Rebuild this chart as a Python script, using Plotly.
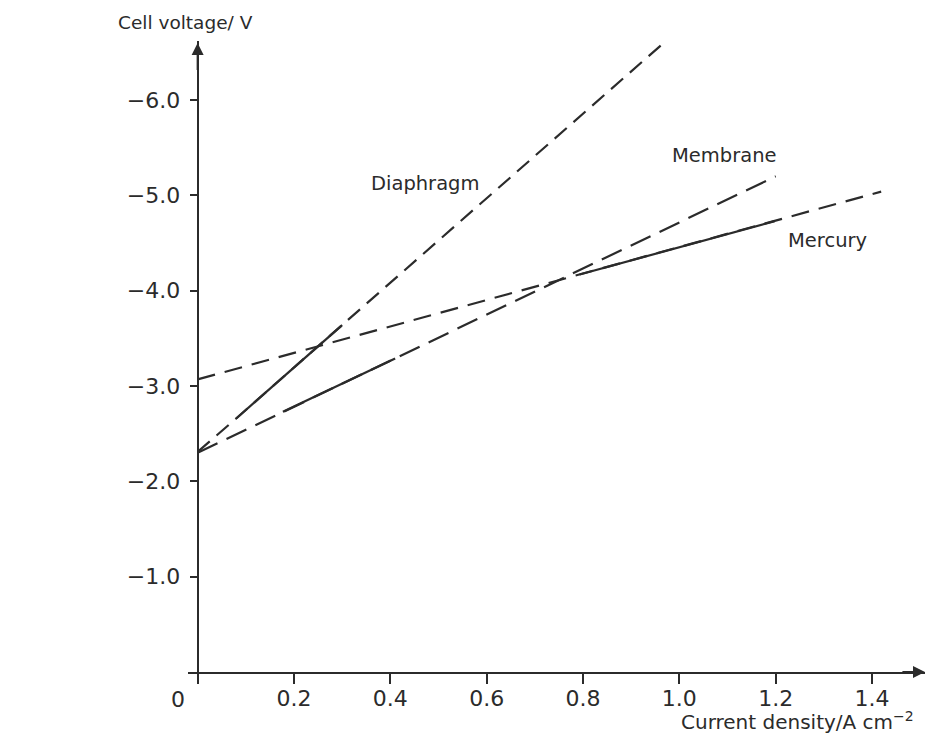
import plotly.graph_objects as go

# Current density (A cm^-2) at line ends / solid-segment breakpoints, and cell voltage (V)
diaphragm_x = [0.0, 0.08, 0.30, 0.972]
diaphragm_v = [-2.31, -2.66, -3.64, -6.62]
membrane_x = [0.0, 0.177, 0.41, 1.20]
membrane_v = [-2.30, -2.73, -3.29, -5.20]
mercury_x = [0.0, 0.793, 1.198, 1.419]
mercury_v = [-3.07, -4.17, -4.73, -5.04]

x_ticks = [0, 0.2, 0.4, 0.6, 0.8, 1.0, 1.2, 1.4]
x_ticktext = ["", "0.2", "0.4", "0.6", "0.8", "1.0", "1.2", "1.4"]
y_ticks = [-1.0, -2.0, -3.0, -4.0, -5.0, -6.0]

INK = "#2b2b2b"
FONT = "DejaVu Sans"

fig = go.Figure()

series = [
    ("Diaphragm", diaphragm_x, diaphragm_v, "16px,9px"),
    ("Membrane", membrane_x, membrane_v, "22px,10px"),
    ("Mercury", mercury_x, mercury_v, "18px,10px"),
]
for name, xs, vs, dash in series:
    fig.add_trace(go.Scatter(x=xs, y=vs, mode="lines", name=name + " (extrapolated)",
                             line=dict(color=INK, width=2.2, dash=dash),
                             showlegend=False, hoverinfo="skip"))
    fig.add_trace(go.Scatter(x=xs[1:3], y=vs[1:3], mode="lines", name=name,
                             line=dict(color=INK, width=2.2),
                             showlegend=False))

X0, X1 = -0.02, 1.51


def xpaper(v):
    return (v - X0) / (X1 - X0)


fig.update_layout(
    width=939, height=725,
    margin=dict(l=180, r=22, t=33, b=61),
    paper_bgcolor="white", plot_bgcolor="white",
    font=dict(family=FONT, color=INK),
    showlegend=False,
    xaxis=dict(range=[X0, X1], domain=[0, 1],
               showgrid=False, zeroline=False,
               showline=True, linecolor=INK, linewidth=2,
               tickmode="array", tickvals=x_ticks, ticktext=x_ticktext,
               ticks="outside", ticklen=10, tickwidth=2, tickcolor=INK,
               ticklabelstandoff=-4,
               tickfont=dict(size=22, family=FONT, color=INK)),
    yaxis=dict(range=[0, -6.62], anchor="free", position=xpaper(0),
               showgrid=False, zeroline=False,
               showline=True, linecolor=INK, linewidth=2,
               tickmode="array", tickvals=y_ticks, tickformat=".1f",
               ticks="outside", ticklen=7, tickwidth=2, tickcolor=INK,
               ticklabelstandoff=5,
               tickfont=dict(size=22, family=FONT, color=INK)),
)

# axis arrowheads
fig.add_annotation(x=1.51, y=0, ax=1.46, ay=0, xref="x", yref="y", axref="x", ayref="y",
                   text="", showarrow=True, arrowhead=2, arrowsize=1.2, arrowwidth=2,
                   arrowcolor=INK)
fig.add_annotation(x=0, y=-6.6, ax=0, ay=-6.3, xref="x", yref="y", axref="x", ayref="y",
                   text="", showarrow=True, arrowhead=2, arrowsize=1.2, arrowwidth=2,
                   arrowcolor=INK)

# origin label
fig.add_annotation(x=xpaper(-0.041), y=0, xref="paper", yref="y", text="0",
                   xanchor="center", showarrow=False, yshift=-27,
                   font=dict(size=22, family=FONT, color=INK))

# axis titles
fig.add_annotation(x=xpaper(-0.026), y=1, xref="paper", yref="paper", text="Cell voltage/ V",
                   showarrow=False, yshift=19, xanchor="center", yanchor="middle",
                   font=dict(size=18.5, family=FONT, color=INK))
fig.add_annotation(x=1.245, y=0, xref="x", yref="y", text="Current density/A cm<sup>−2</sup>",
                   showarrow=False, yshift=-49, xanchor="center",
                   font=dict(size=20, family=FONT, color=INK))

# series labels
labels = [("Diaphragm", 0.472, -5.13), ("Membrane", 1.094, -5.42), ("Mercury", 1.308, -4.53)]
for txt, lx, ly in labels:
    fig.add_annotation(x=lx, y=ly, xref="x", yref="y", text=txt, showarrow=False,
                       font=dict(size=19.5, family=FONT, color=INK))

fig.write_html("out.html")
